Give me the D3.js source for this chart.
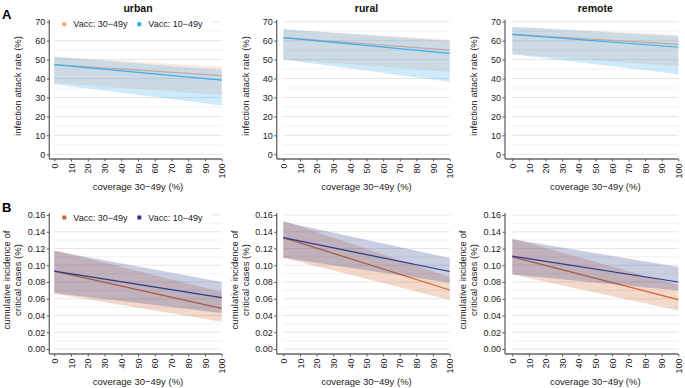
<!DOCTYPE html>
<html><head><meta charset="utf-8">
<script src="https://cdn.jsdelivr.net/npm/d3@7"></script>
<style>body{margin:0;background:#fff}svg{display:block;font-family:"Liberation Sans",Arial,sans-serif}</style>
</head><body><svg id="c" width="685" height="388"></svg>
<script>
// ---- data ----
const coverage = [0, 100];
const regions = ["urban", "rural", "remote"];
const seriesNames = ["Vacc: 30\u221249y", "Vacc: 10\u221249y"];
const xTicks = [0,10,20,30,40,50,60,70,80,90,100];
const yTicksA = [0,10,20,30,40,50,60,70];
const yTicksB = [0,0.02,0.04,0.06,0.08,0.10,0.12,0.14,0.16];
// each row: [mid, low, high] at coverage 0 and 100
const iarUrban30 = [[47.3, 37.5, 51.5], [41.5, 31.3, 46.2]];
const iarUrban10 = [[47.3, 37.0, 51.5], [39.2, 25.7, 44.5]];
const iarRural30 = [[61.6, 50.0, 66.0], [55.0, 43.6, 60.5]];
const iarRural10 = [[61.6, 50.0, 66.0], [53.3, 38.3, 59.8]];
const iarRemote30 = [[63.3, 52.8, 67.4], [58.0, 46.3, 63.0]];
const iarRemote10 = [[63.3, 52.8, 67.4], [56.5, 42.2, 62.3]];
const critUrban30 = [[0.093, 0.066, 0.118], [0.0486, 0.0326, 0.068]];
const critUrban10 = [[0.093, 0.067, 0.117], [0.0613, 0.043, 0.080]];
const critRural30 = [[0.133, 0.109, 0.153], [0.0705, 0.0585, 0.086]];
const critRural10 = [[0.133, 0.109, 0.152], [0.0925, 0.079, 0.1087]];
const critRemote30 = [[0.110, 0.089, 0.132], [0.059, 0.046, 0.076]];
const critRemote10 = [[0.111, 0.089, 0.131], [0.080, 0.070, 0.098]];

const rowA = {label:"A", yDomain:[0,70], ticks:yTicksA, minor:5, fmt:d3.format("d"),
  title:["infection attack rate (%)"], colors:["#f4a582","#3aaef0"],
  data:[[iarUrban30,iarUrban10],[iarRural30,iarRural10],[iarRemote30,iarRemote10]],
  yTop:21.7, yBot:154.3, axisY:159, showTitles:true};
const rowB = {label:"B", yDomain:[0,0.16], ticks:yTicksB, minor:0.01, fmt:d3.format(".2f"),
  title:["cumulative incidence of","critical cases (%)"], colors:["#d2642a","#283a8c"],
  data:[[critUrban30,critUrban10],[critRural30,critRural10],[critRemote30,critRemote10]],
  yTop:215, yBot:349, axisY:354, showTitles:false};
const cols = [{axisX:49.3, x0:54.3, x1:221.7},{axisX:276.7, x0:283.3, x1:449.7},{axisX:505, x0:512.3, x1:678.3}];

const svg = d3.select("#c");

[rowA,rowB].forEach(row=>{
  svg.append("text").attr("x",2).attr("y",row.yTop-3).attr("font-size",13).attr("font-weight","bold").text(row.label);
  cols.forEach((c,ci)=>{
    const g = svg.append("g");
    const x = d3.scaleLinear().domain([0,100]).range([c.x0,c.x1]);
    const y = d3.scaleLinear().domain(row.yDomain).range([row.yBot,row.yTop]);
    // grid
    const minorT = d3.range(row.yDomain[0]+row.minor, row.yDomain[1], row.minor*2);
    g.selectAll(".mn").data(minorT).join("line").attr("x1",c.x0).attr("x2",c.x1)
      .attr("y1",d=>y(d)).attr("y2",d=>y(d)).attr("stroke","#efeff2").attr("stroke-width",0.9);
    g.selectAll(".mj").data(row.ticks).join("line").attr("x1",c.x0).attr("x2",c.x1)
      .attr("y1",d=>y(d)).attr("y2",d=>y(d)).attr("stroke","#e2e2e6").attr("stroke-width",0.9);
    // series
    row.data[ci].forEach((ser,si)=>{
      const pts = ser.map((r,i)=>({x:coverage[i], m:r[0], lo:r[1], hi:r[2]}));
      g.append("path").datum(pts).attr("fill",row.colors[si]).attr("fill-opacity",0.25)
        .attr("d",d3.area().x(d=>x(d.x)).y0(d=>y(d.lo)).y1(d=>y(d.hi)));
      g.append("path").datum(pts).attr("fill","none").attr("stroke",row.colors[si]).attr("stroke-width",1.2)
        .attr("d",d3.line().x(d=>x(d.x)).y(d=>y(d.m)));
    });
    // axes
    const ya = d3.axisLeft(y).tickValues(row.ticks).tickFormat(row.fmt).tickSize(2.5).tickPadding(1.5);
    const yg = g.append("g").attr("transform",`translate(${c.axisX},0)`).call(ya);
    yg.select(".domain").attr("d",`M0,${row.yTop-2}V${row.axisY}`);
    const xa = d3.axisBottom(x).tickValues(xTicks).tickSize(2.5).tickPadding(2);
    const xg = g.append("g").attr("transform",`translate(0,${row.axisY})`).call(xa);
    xg.select(".domain").attr("d",`M${c.axisX},0H${c.x1}`);
    xg.selectAll("text").attr("transform","rotate(-90)").attr("text-anchor","end")
      .attr("x",-4.5).attr("y",0).attr("dy","0.35em");
    [yg,xg].forEach(a=>{
      a.selectAll("text").attr("font-size",9).attr("fill","#222").attr("font-family",'"Liberation Sans",Arial,sans-serif');
      a.selectAll("line").attr("stroke","#555");
      a.select(".domain").attr("stroke","#666").attr("stroke-width",1.3);
    });
    // axis titles
    const yc = (row.yTop+row.yBot)/2 - 2;
    row.title.forEach((t,ti)=>{
      const off = row.title.length===2 ? (ti===0?39:28) : 28;
      svg.append("text").attr("transform",`translate(${c.axisX-off},${yc}) rotate(-90)`)
        .attr("text-anchor","middle").attr("font-size",9.5).attr("fill","#222").text(t);
    });
    svg.append("text").attr("x",(c.x0+c.x1)/2).attr("y",row.axisY+31).attr("text-anchor","middle")
      .attr("font-size",9.5).attr("fill","#222").text("coverage 30\u221249y (%)");
    if(row.showTitles){
      svg.append("text").attr("x",(c.x0+c.x1)/2).attr("y",12).attr("text-anchor","middle")
        .attr("font-size",10.5).attr("font-weight","bold").attr("fill","#111").text(regions[ci]);
    }
    // legend (first column only)
    if(ci===0){
      const ly = row.yTop+2.5;
      const lg = svg.append("g");
      lg.append("rect").attr("x",c.x0).attr("y",ly-8.5).attr("width",156).attr("height",17).attr("fill","#fff");
      const offs = [8, 83];
      seriesNames.forEach((s,si)=>{
        lg.append("rect").attr("x",c.x0+offs[si]).attr("y",ly-2).attr("width",4).attr("height",4).attr("fill",row.colors[si]);
        lg.append("text").attr("x",c.x0+offs[si]+11).attr("y",ly).attr("dy","0.35em")
          .attr("font-size",9).attr("fill","#222").text(s);
      });
    }
  });
});
</script></body></html>
